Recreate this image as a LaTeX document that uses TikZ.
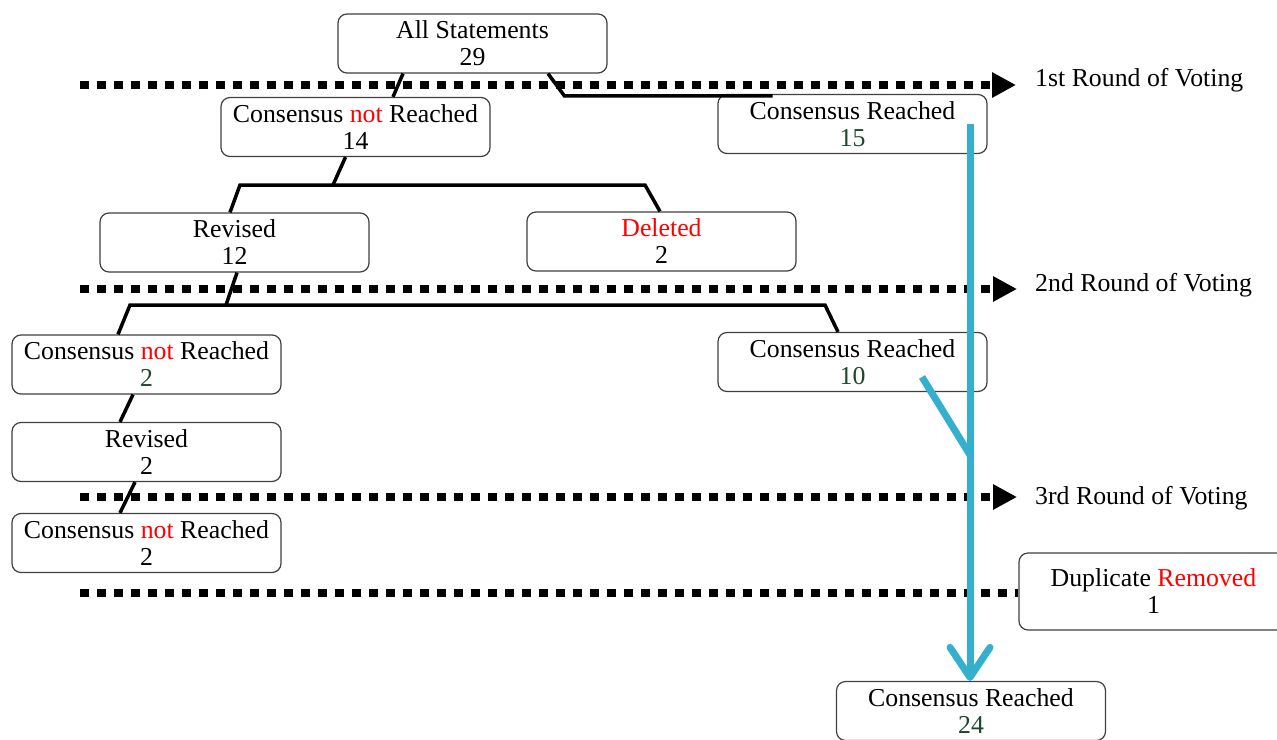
\documentclass[tikz,border=0pt]{standalone}
\usepackage{fontspec}
\setmainfont{Liberation Serif}
\usetikzlibrary{arrows.meta, positioning}
\definecolor{votered}{RGB}{255,0,0}
\definecolor{votegreen}{RGB}{28,72,44}
\definecolor{voteblue}{RGB}{52,176,206}

\begin{document}
\begin{tikzpicture}[
    x=1pt, y=-1pt,
    stage/.style={rectangle, rounded corners=9pt, draw=black!75, fill=white, line width=1.2pt, minimum width=269pt, minimum height=59pt, inner sep=0pt, align=center, font=\fontsize{25.8}{27}\selectfont},
    link/.style={line width=3.5pt},
    roundline/.style={line width=8pt, dash pattern=on 9pt off 8pt},
    roundarrow/.style={roundline, -{Triangle[length=24pt,width=24pt]}},
    flow/.style={voteblue, line width=7pt},
    roundtext/.style={anchor=west, inner sep=0pt, font=\fontsize{25.8}{27}\selectfont},
]
\useasboundingbox (0,0) rectangle (1277,739);

% Voting rounds
\node[roundtext] (r1) at (1035,80) {1st Round of Voting};
\node[roundtext] (r2) at (1035,285) {2nd Round of Voting};
\node[roundtext] (r3) at (1035,498) {3rd Round of Voting};
\coordinate (r1s) at (80,85);
\coordinate (r2s) at (80,289);
\coordinate (r3s) at (80,497);
\coordinate (r4s) at (80,593);
\draw[roundarrow, shorten >=19pt] (r1s) -- (r1s -| r1.west);
\draw[roundarrow, shorten >=18pt] (r2s) -- (r2s -| r2.west);
\draw[roundarrow, shorten >=18pt] (r3s) -- (r3s -| r3.west);

% Statements
\node[stage] (all) at (472.5,43.5) {All Statements\\29};
\node[stage] (open1) at (355.5,127) {Consensus \textcolor{votered}{not} Reached\\14};
\node[stage] (agreed1) at (852.5,124) {Consensus Reached\\\textcolor{votegreen}{15}};
\node[stage] (revised1) at (234.5,242.5) {Revised\\12};
\node[stage] (deleted) at (661.5,241.5) {\textcolor{votered}{Deleted}\\2};
\node[stage] (open2) at (146.5,364.5) {Consensus \textcolor{votered}{not} Reached\\\textcolor{votegreen}{2}};
\node[stage] (agreed2) at (852.5,362) {Consensus Reached\\\textcolor{votegreen}{10}};
\node[stage] (revised2) at (146.5,452) {Revised\\2};
\node[stage] (open3) at (146.5,543) {Consensus \textcolor{votered}{not} Reached\\2};
\node[stage, minimum height=77pt] (dup) at (1153.5,591.5) {Duplicate \textcolor{votered}{Removed}\\1};
\node[stage] (final) at (971,711) {Consensus Reached\\\textcolor{votegreen}{24}};

\draw[roundline] (r4s) -- (r4s -| dup.west);

% Splits
\coordinate (split1) at (333,185);
\coordinate (bar1l) at (240,185);
\coordinate (bar1r) at (645,185);
\coordinate (split2) at (226,305);
\coordinate (bar2l) at (130,305);
\coordinate (bar2r) at (825,305);
\coordinate (merge) at (970,455);

\draw[link] ([xshift=-69.5pt]all.south) -- ([xshift=37.5pt]open1.north);
\draw[link] ([xshift=75.5pt]all.south) -- ([shift={(-153,2)}]agreed1.north west) -- ([shift={(-80,2)}]agreed1.north);
\draw[link] ([xshift=-10pt]open1.south) -- (split1);
\draw[link] ([xshift=-4.5pt]revised1.north) -- (bar1l) -- (bar1r) -- ([xshift=-1.5pt]deleted.north);
\draw[link] ([xshift=2.5pt]revised1.south) -- (split2);
\draw[link] ([xshift=-28.5pt]open2.north) -- (bar2l) -- (bar2r) -- ([xshift=-14.5pt]agreed2.north);
\draw[link] ([xshift=-13.5pt]open2.south) -- ([xshift=-26.5pt]revised2.north);
\draw[link] ([xshift=-11.5pt]revised2.south) -- ([xshift=-26.5pt]open3.north);

% Consensus flow
\draw[flow, -{Straight Barb[length=30pt,width=40pt,round]}] ([xshift=117.5pt]agreed1.center) -- ([xshift=-1pt]final.north);
\draw[flow] ([shift={(69.5,15)}]agreed2.center) -- (merge);

\end{tikzpicture}
\end{document}
